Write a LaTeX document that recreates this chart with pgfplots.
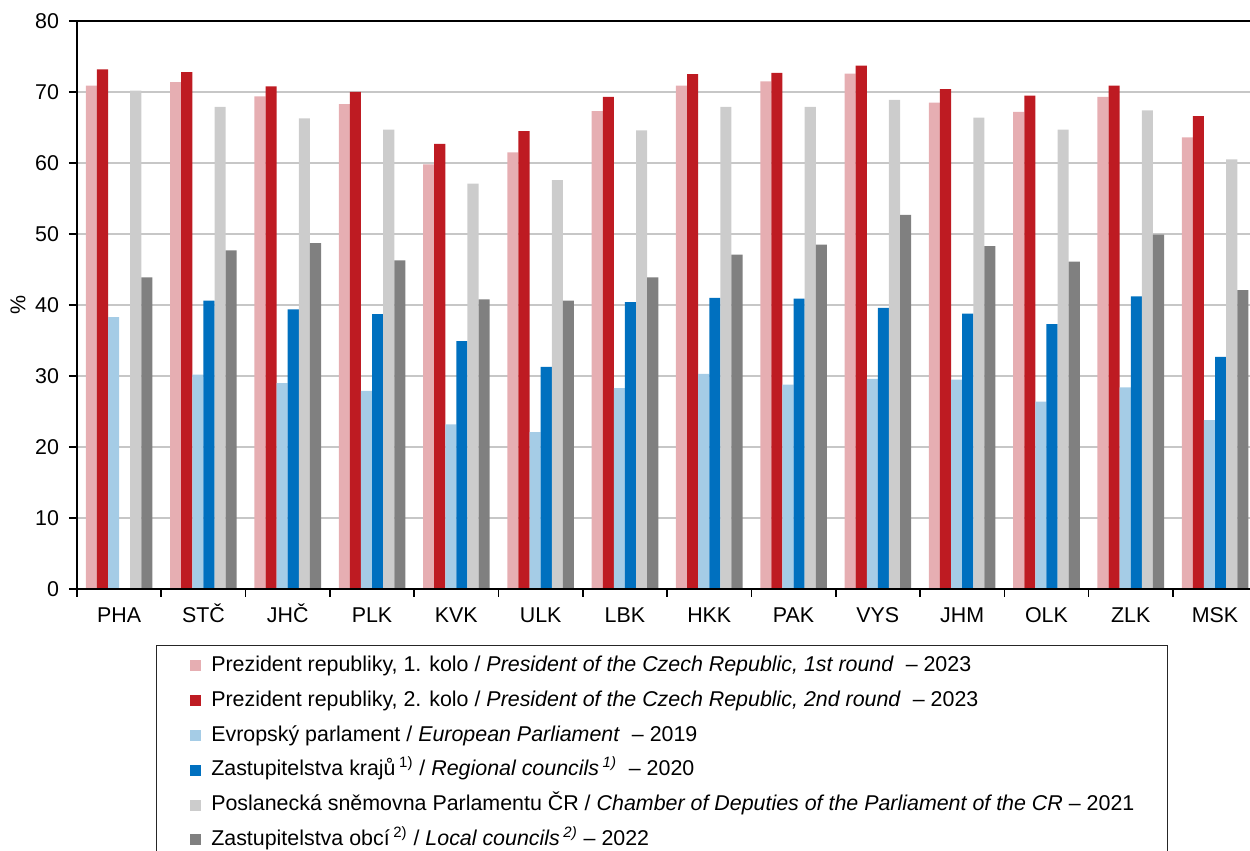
\documentclass[border=0pt]{standalone}
\usepackage{pgfplots}
\pgfplotsset{compat=1.18}
\usepackage{pgfplotstable}
\usepackage{fontspec}
\setmainfont{Liberation Sans}
\definecolor{cPink}{RGB}{230,174,178}
\definecolor{cRed}{RGB}{190,27,34}
\definecolor{cLBlue}{RGB}{165,204,230}
\definecolor{cBlue}{RGB}{0,112,191}
\definecolor{cLGray}{RGB}{204,204,204}
\definecolor{cDGray}{RGB}{128,128,128}
\pgfplotstableread{
x p1 p2 ep kr ps ob
0 70.9 73.2 38.3 nan 70.2 43.9
1 71.4 72.8 30.2 40.6 67.9 47.7
2 69.4 70.8 29.0 39.4 66.3 48.7
3 68.3 70.0 27.9 38.7 64.7 46.3
4 59.8 62.7 23.2 34.9 57.1 40.8
5 61.5 64.5 22.1 31.3 57.6 40.6
6 67.3 69.3 28.3 40.4 64.6 43.9
7 70.9 72.5 30.3 41.0 67.9 47.1
8 71.5 72.7 28.8 40.9 67.9 48.5
9 72.6 73.7 29.6 39.6 68.9 52.7
10 68.5 70.4 29.5 38.8 66.4 48.3
11 67.2 69.5 26.4 37.3 64.7 46.1
12 69.3 70.9 28.4 41.2 67.4 49.9
13 63.6 66.6 23.8 32.7 60.5 42.1
}\data
\begin{document}
\begin{tikzpicture}
\useasboundingbox (0,0) rectangle (625pt,425.5pt);
\clip (0,0) rectangle (625pt,425.5pt);
\begin{axis}[
  at={(38.5pt,131pt)}, anchor=south west,
  scale only axis, width=590.1pt, height=284pt,
  xmin=-0.5, xmax=13.5, ymin=0, ymax=80,
  ybar=0pt, bar width=5.55pt,
  axis line style={black, line width=1.2pt},
  ytick={0,10,...,80},
  ymajorgrids, grid style={color=black!22, line width=0.75pt},
  ytick pos=left, tick align=outside,
  major tick length=4pt,
  tick style={black, line width=0.8pt},
  xtick={-0.5,0.5,...,13.5}, xticklabels={}, xtick pos=bottom,
  extra x ticks={0,...,13},
  extra x tick labels={PHA,STČ,JHČ,PLK,KVK,ULK,LBK,HKK,PAK,VYS,JHM,OLK,ZLK,MSK},
  extra x tick style={major tick length=0pt, grid=none},
  tick label style={font=\fontsize{10.7}{12}\selectfont},
  /pgf/number format/assume math mode=true,
  yticklabel style={xshift=-1.5pt},
  xticklabel style={text height=7.7pt, text depth=0pt, anchor=north, yshift=-5.5pt},
  ylabel={\%}, ylabel style={font=\fontsize{10.7}{12}\selectfont, at={(rel axis cs:0,0.5)}, anchor=center, yshift=29.5pt},
  legend style={draw=black!85, line width=0.6pt, at={(0.0667,-0.0986)}, anchor=north west,
    inner xsep=16.65pt, inner ysep=5.2pt, row sep=7.5pt,
    font=\fontsize{10.7}{12}\selectfont,
    nodes={inner sep=0pt, text height=7.7pt, text depth=2.2pt},
    /tikz/every odd column/.append style={column sep=5.35pt}},
  legend cell align=left,
  legend image code/.code={\fill[#1,draw=none] (0pt,-2.75pt) rectangle (5.5pt,2.75pt);},
]
\addplot[fill=cPink, draw=none] table[x=x,y=p1]{\data};
\addlegendentry{Prezident republiky, 1. kolo / \textit{President of the Czech Republic, 1st round}\ \ – 2023}
\addplot[fill=cRed, draw=none] table[x=x,y=p2]{\data};
\addlegendentry{Prezident republiky, 2. kolo / \textit{President of the Czech Republic, 2nd round}\ \ – 2023}
\addplot[fill=cLBlue, draw=none] table[x=x,y=ep]{\data};
\addlegendentry{Evropský parlament / \textit{European Parliament}\ \ – 2019}
\addplot[fill=cBlue, draw=none] table[x=x,y=kr]{\data};
\addlegendentry{Zastupitelstva krajů\,\textsuperscript{1)} / \textit{Regional councils\,\textsuperscript{1)}}\ \ – 2020}
\addplot[fill=cLGray, draw=none] table[x=x,y=ps]{\data};
\addlegendentry{Poslanecká sněmovna Parlamentu ČR / \textit{Chamber of Deputies of the Parliament of the CR} – 2021}
\addplot[fill=cDGray, draw=none] table[x=x,y=ob]{\data};
\addlegendentry{Zastupitelstva obcí\,\textsuperscript{2)} / \textit{Local councils\,\textsuperscript{2)}} – 2022}
\draw[black, line width=1.2pt] (rel axis cs:0,0) -- (rel axis cs:1,0);
\end{axis}
\end{tikzpicture}
\end{document}
